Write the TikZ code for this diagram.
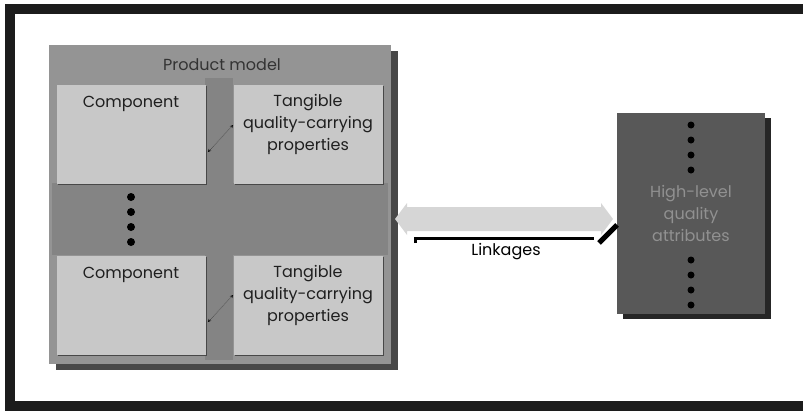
\documentclass[tikz,border=0pt]{standalone}
\usepackage{fontspec}
\setmainfont{Poppins}
\usetikzlibrary{positioning,calc,shadows}
\usetikzlibrary{arrows}
\definecolor{framegray}{RGB}{28, 28, 28}
\definecolor{modelgray}{RGB}{148, 148, 148}
\definecolor{crossgray}{RGB}{132, 132, 132}
\definecolor{shadegray}{RGB}{72, 72, 72}
\definecolor{boxgray}{RGB}{200, 200, 200}
\definecolor{attrgray}{RGB}{88, 88, 88}
\definecolor{attrtext}{RGB}{145, 145, 145}
\definecolor{linkgray}{RGB}{214, 214, 214}
\tikzstyle{model}=[fill=modelgray, minimum width=342pt, minimum height=319pt, inner sep=0pt,
    drop shadow={shadow xshift=7pt, shadow yshift=-6pt, fill=shadegray, opacity=1}]
\tikzstyle{part}=[fill=boxgray, minimum width=149pt, minimum height=99pt, inner sep=0pt,
    drop shadow={shadow xshift=1.5pt, shadow yshift=-1.5pt, fill=shadegray, opacity=1}]
\tikzstyle{parttext}=[inner sep=0pt, align=center, text=black!88]
\tikzstyle{attr}=[fill=attrgray, minimum width=148pt, minimum height=201pt, inner sep=0pt,
    drop shadow={shadow xshift=6pt, shadow yshift=-5pt, fill=black!85, opacity=1}]

\begin{document}
\begin{tikzpicture}[x=1pt, y=-1pt, >=stealth, thick,
    every node/.style={font=\fontsize{16}{22}\selectfont}]
    \useasboundingbox (0,0) rectangle (803,410);
    \clip (0,0) rectangle (803,410);

    % outer frame
    \draw [framegray, line width=10pt] (803,9) -- (9.5,9) -- (9.5,406) -- (803,406);

    % product model
    \node [model] (model) at (220,204.5) {};
    \fill [crossgray] (205,78) rectangle (233,360);
    \fill [crossgray] (52,183) rectangle (388,255);
    \node [parttext, text=black!80] (modeltitle) at ($(model.north)+(2,20)$) {Product model};

    \node [part] (comp1) at (131,134) {};
    \node [part] (tang1) at (308,134) {};
    \node [part] (comp2) at (131,305) {};
    \node [part] (tang2) at (308,305) {};

    \node [parttext, below=12pt of comp1.north] (comp1txt) {Component};
    \node [parttext, below=10pt of tang1.north] (tang1txt) {Tangible\\quality-carrying\\properties};
    \node [parttext, below=12pt of comp2.north] (comp2txt) {Component};
    \node [parttext, below=10pt of tang2.north] (tang2txt) {Tangible\\quality-carrying\\properties};

    \draw [<->, thin, densely dotted] ($(comp1.east)+(2,18)$) -- ($(tang1.west)+(0,-9)$);
    \draw [<->, thin, densely dotted] ($(comp2.east)+(2,17)$) -- ($(tang2.west)+(0,-10)$);

    \foreach \i in {0,...,3}{
        \fill [black] (131,197+15*\i) circle (4pt);
    }

    % high-level attributes
    \node [attr, text=attrtext, align=center] (attr) at (691,213.5) {High-level\\quality\\attributes};
    \foreach \i in {0,...,3}{
        \fill [black] (691,125+15*\i) circle (3.5pt);
        \fill [black] (691,260+15*\i) circle (3.5pt);
    }

    % linkages
    \coordinate (link) at ($(model.east)!0.5!(attr.west)+(0,10)$);
    \fill [linkgray] ($(link)+(-109,0)$) -- ++(12,-16) -- ++(0,4) -- ++(194,0) -- ++(0,-4)
        -- ++(12,16) -- ++(-12,16) -- ++(0,-4) -- ++(-194,0) -- ++(0,4) -- cycle;
    \draw [line width=3pt] ($(link)+(-89,24)$) -- ($(link)+(-89,19)$) -- ($(link)+(90,19)$);
    \draw [line width=5pt] ($(link)+(95,24)$) -- ($(link)+(113,6)$);
    \node [inner sep=0pt] (linklbl) at ($(link)+(2,33)$) {Linkages};

\end{tikzpicture}
\end{document}
